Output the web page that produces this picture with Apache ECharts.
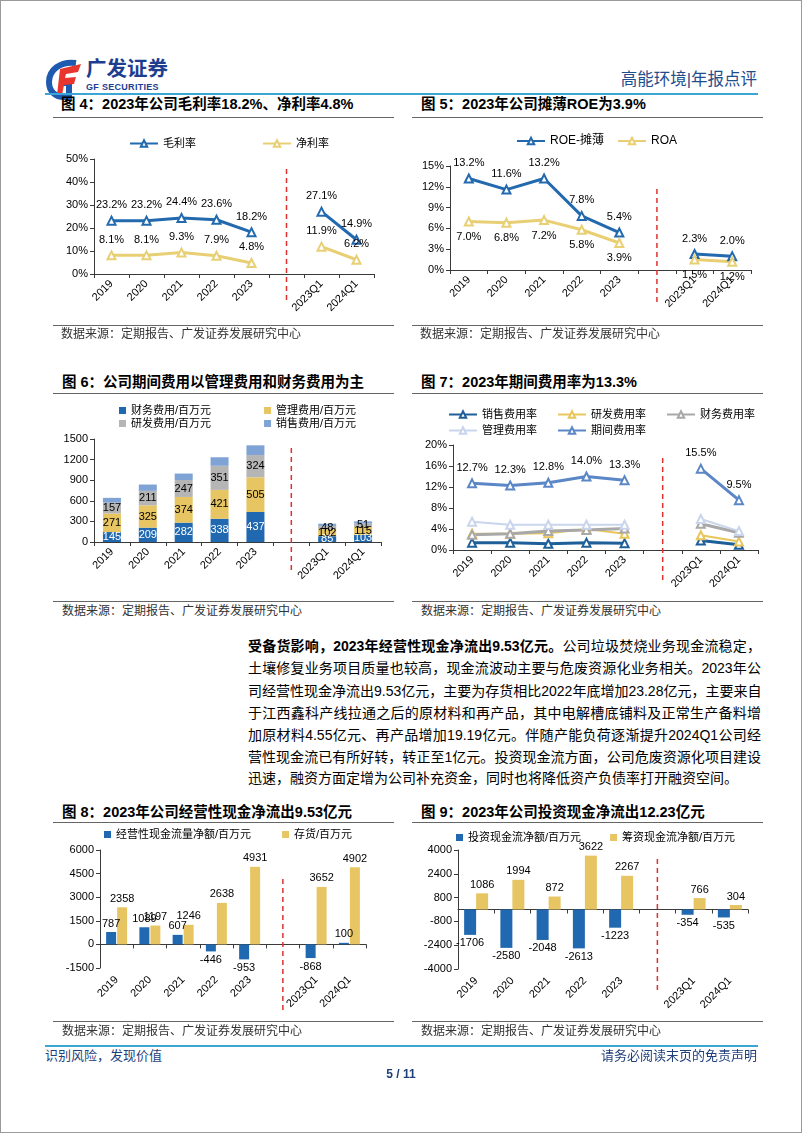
<!DOCTYPE html>
<html>
<head>
<meta charset="utf-8">
<script src="https://cdn.jsdelivr.net/npm/echarts@6/dist/echarts.min.js"></script>
<style>
html,body{margin:0;padding:0;background:#fff;}
#page{position:relative;width:802px;height:1133px;box-sizing:border-box;border:1px solid #9a9a9a;overflow:hidden;font-family:"Liberation Sans","Noto Sans CJK SC",sans-serif;background:#fff;}
.ttl{position:absolute;font-size:14.5px;font-weight:bold;color:#000;white-space:nowrap;line-height:18px;}
.hl{position:absolute;height:1px;background:#666;}
.src{position:absolute;font-size:12px;color:#333;white-space:nowrap;line-height:14px;}
.chart{position:absolute;}
.pl{position:absolute;left:247px;width:513px;font-size:14px;line-height:22px;height:22px;white-space:nowrap;color:#000;text-align:justify;text-align-last:justify;}
</style>
</head>
<body>
<div id="page">
  <!-- header -->
  <svg style="position:absolute;left:44px;top:57px" width="38" height="42" viewBox="0 0 38 42">
    <path d="M31 5 C15 3 4 12 4 24 C4 34 11 39 19 39 L24 39 L24 25 L15 25" fill="none" stroke="#1E5BB0" stroke-width="6"/>
    <path d="M15 11 L36 6 L33 14 L21 16 L20 20 L31 19 L29 26 L19 27 L17 37 L12 37 Z" fill="#E8352E"/>
  </svg>
  <div style="position:absolute;left:85px;top:56px;font-size:20.5px;font-weight:bold;color:#1D3E8F;line-height:24px;white-space:nowrap;">广发证券</div>
  <div style="position:absolute;left:85px;top:81px;font-size:9px;font-weight:bold;color:#1D3E8F;line-height:10px;letter-spacing:0.3px;white-space:nowrap;">GF SECURITIES</div>
  <div style="position:absolute;right:44px;top:69px;font-size:16.5px;color:#1F4E8C;line-height:19px;white-space:nowrap;">高能环境|年报点评</div>
  <div style="position:absolute;left:44px;top:92px;width:713px;height:2px;background:#3BA5D8;"></div>

  <!-- row 1 titles -->
  <div class="ttl" style="left:60px;top:94px;">图 4：2023年公司毛利率18.2%、净利率4.8%</div>
  <div class="ttl" style="left:420px;top:94px;">图 5：2023年公司摊薄ROE为3.9%</div>
  <div class="hl" style="left:52px;top:116px;width:341px;"></div>
  <div class="hl" style="left:411px;top:116px;width:351px;"></div>

  <div id="c4" class="chart" style="left:40px;top:125px;width:360px;height:200px;"></div>
  <div id="c5" class="chart" style="left:410px;top:125px;width:390px;height:200px;"></div>

  <div class="hl" style="left:52px;top:324px;width:341px;"></div>
  <div class="hl" style="left:411px;top:324px;width:351px;"></div>
  <div class="src" style="left:60px;top:326px;">数据来源：定期报告、广发证券发展研究中心</div>
  <div class="src" style="left:419px;top:326px;">数据来源：定期报告、广发证券发展研究中心</div>

  <!-- row 2 -->
  <div class="ttl" style="left:61px;top:372px;">图 6：公司期间费用以管理费用和财务费用为主</div>
  <div class="ttl" style="left:420px;top:372px;">图 7：2023年期间费用率为13.3%</div>
  <div class="hl" style="left:52px;top:392px;width:341px;"></div>
  <div class="hl" style="left:411px;top:392px;width:351px;"></div>

  <div id="c6" class="chart" style="left:40px;top:398px;width:360px;height:200px;"></div>
  <div id="c7" class="chart" style="left:410px;top:398px;width:390px;height:200px;"></div>

  <div class="hl" style="left:52px;top:600px;width:341px;"></div>
  <div class="hl" style="left:411px;top:600px;width:351px;"></div>
  <div class="src" style="left:61px;top:603px;">数据来源：定期报告、广发证券发展研究中心</div>
  <div class="src" style="left:420px;top:603px;">数据来源：定期报告、广发证券发展研究中心</div>

  <!-- paragraph -->
  <div class="pl" style="top:634px;"><b>受备货影响，2023年经营性现金净流出9.53亿元。</b>公司垃圾焚烧业务现金流稳定，</div>
  <div class="pl" style="top:656px;">土壤修复业务项目质量也较高，现金流波动主要与危废资源化业务相关。2023年公</div>
  <div class="pl" style="top:679px;">司经营性现金净流出9.53亿元，主要为存货相比2022年底增加23.28亿元，主要来自</div>
  <div class="pl" style="top:701px;">于江西鑫科产线拉通之后的原材料和再产品，其中电解槽底铺料及正常生产备料增</div>
  <div class="pl" style="top:723px;">加原材料4.55亿元、再产品增加19.19亿元。伴随产能负荷逐渐提升2024Q1公司经</div>
  <div class="pl" style="top:745px;">营性现金流已有所好转，转正至1亿元。投资现金流方面，公司危废资源化项目建设</div>
  <div class="pl" style="top:766px;text-align-last:left;">迅速，融资方面定增为公司补充资金，同时也将降低资产负债率打开融资空间。</div>

  <!-- row 3 -->
  <div class="ttl" style="left:61px;top:802px;">图 8：2023年公司经营性现金净流出9.53亿元</div>
  <div class="ttl" style="left:420px;top:802px;">图 9：2023年公司投资现金净流出12.23亿元</div>
  <div class="hl" style="left:52px;top:821px;width:341px;"></div>
  <div class="hl" style="left:411px;top:821px;width:351px;"></div>

  <div id="c8" class="chart" style="left:40px;top:825px;width:370px;height:200px;"></div>
  <div id="c9" class="chart" style="left:410px;top:825px;width:390px;height:200px;"></div>

  <div class="hl" style="left:52px;top:1020px;width:341px;"></div>
  <div class="hl" style="left:411px;top:1020px;width:351px;"></div>
  <div class="src" style="left:61px;top:1023px;">数据来源：定期报告、广发证券发展研究中心</div>
  <div class="src" style="left:420px;top:1023px;">数据来源：定期报告、广发证券发展研究中心</div>

  <!-- footer -->
  <div style="position:absolute;left:44px;top:1044px;width:713px;height:2px;background:#3BA5D8;"></div>
  <div style="position:absolute;left:44px;top:1047px;font-size:13px;color:#1F3F7A;line-height:16px;white-space:nowrap;">识别风险，发现价值</div>
  <div style="position:absolute;right:44px;top:1047px;font-size:13px;color:#1F3F7A;line-height:16px;white-space:nowrap;">请务必阅读末页的免责声明</div>
  <div style="position:absolute;left:0;width:800px;top:1066px;text-align:center;font-size:12px;font-weight:bold;color:#1F3F7A;line-height:14px;">5 / 11</div>
</div>

<script>
// ---------- data ----------
const categories = ['2019','2020','2021','2022','2023','','2023Q1','2024Q1'];
// Fig 4
const grossMargin = [23.2,23.2,24.4,23.6,18.2,null,27.1,14.9];
const netMargin   = [8.1,8.1,9.3,7.9,4.8,null,11.9,6.2];
// Fig 5
const roeDiluted  = [13.2,11.6,13.2,7.8,5.4,null,2.3,2.0];
const roaValues   = [7.0,6.8,7.2,5.8,3.9,null,1.5,1.2];
// Fig 6 (百万元)
const financeExp  = [145,209,282,338,437,null,85,103];
const adminExp    = [271,325,374,421,505,null,102,115];
const rdExp       = [157,211,247,351,324,null,48,51];
const salesExp    = [70,92,94,124,142,null,31,31];
// Fig 7 (%)
const salesRate   = [1.4,1.4,1.2,1.4,1.3,null,1.8,1.0];
const rdRate      = [3.1,3.1,3.2,4.0,3.1,null,2.8,1.6];
const finRate     = [2.9,3.1,3.6,3.8,4.1,null,5.0,3.3];
const adminRate   = [5.4,4.8,4.8,4.8,4.8,null,5.9,3.6];
const periodRate  = [12.7,12.3,12.8,14.0,13.3,null,15.5,9.5];
// Fig 8 (百万元)
const opCashFlow  = [787,1089,607,-446,-953,null,-868,100];
const inventory   = [2358,1197,1246,2638,4931,null,3652,4902];
// Fig 9 (百万元)
const invCashFlow = [-1706,-2580,-2048,-2613,-1223,null,-354,-535];
const finCashFlow = [1086,1994,872,3622,2267,null,766,304];

// ---------- helpers ----------
const FF = "'Liberation Sans','Noto Sans CJK SC',sans-serif";
const AX = '#3a3a3a';
const BLUE = '#2369AE', GOLD = '#E6C562', GRAY = '#B5B5B5', LBLUE = '#7FA3D5';

function catAxis(o){
  o = o || {};
  return {
    type:'category', data:categories, boundaryGap:true, position:'bottom',
    axisLine:{show:o.line!==false, onZero:o.onZero!==false, lineStyle:{color:AX,width:1}},
    axisTick:{show:o.line!==false, length:4, lineStyle:{color:AX}},
    axisLabel:{show:o.labels!==false, interval:0, rotate:45, fontSize:11, color:'#000', fontFamily:FF, margin:o.margin||8},
    splitLine:{show:false}
  };
}
function valAxis(min,max,interval,suffix){
  return {
    type:'value', min:min, max:max, interval:interval,
    axisLine:{show:true, lineStyle:{color:AX,width:1}},
    axisTick:{show:true, length:4, lineStyle:{color:AX}},
    axisLabel:{fontSize:11, color:'#000', fontFamily:FF, margin:6, formatter:function(v){return v + (suffix||'');}},
    splitLine:{show:false}
  };
}
function grid(l,r,t,b){ return {left:l,right:r,top:t,bottom:b,containLabel:false,outerBoundsMode:'none'}; }
function lineSer(name,data,color,width,pos){
  return {
    name:name, type:'line', data:data, connectNulls:false,
    symbol:'emptyTriangle', symbolSize:8,
    itemStyle:{color:color, borderColor:color, borderWidth:1.2},
    lineStyle:{color:color, width:width},
    label:{show:!!pos, position:pos||'top', distance:5, fontSize:11, color:'#000', fontFamily:FF,
      formatter:function(p){return Number(p.value).toFixed(1)+'%';}},
    emphasis:{disabled:true}, animation:false
  };
}
function legendCfg(o){
  return Object.assign({orient:'horizontal', itemWidth:28, itemHeight:8, padding:0, selectedMode:false,
    textStyle:{fontSize:11, color:'#000', fontFamily:FF}}, o);
}
function sep(chart,y1,y2){
  const x = chart.convertToPixel({xAxisIndex:0}, 5);
  chart.setOption({graphic:[{type:'line', silent:true, z:100,
    shape:{x1:x,y1:y1,x2:x,y2:y2}, style:{stroke:'#E0302E', lineWidth:1.5, lineDash:[5,4]}}]});
}
function signed(arr){
  return arr.map(function(v){ return v==null ? '-' : {value:v, label:{position: v<0 ? 'bottom' : 'top'}}; });
}
function barLabel(color,pos){
  return {show:true, position:pos, fontSize:11, color:color, fontFamily:FF, distance:3};
}

// ---------- Fig 4 ----------
const c4 = echarts.init(document.getElementById('c4'));
c4.setOption({
  animation:false,
  legend: legendCfg({left:88, top:12, itemGap:66, data:['毛利率','净利率']}),
  grid: grid(53,27,33,52),
  xAxis: catAxis(),
  yAxis: valAxis(0,50,10,'%'),
  series:[ lineSer('毛利率',grossMargin,BLUE,3,'top'), lineSer('净利率',netMargin,'#E9CF74',3,'top') ]
});
sep(c4,43,178);

// ---------- Fig 5 ----------
const c5 = echarts.init(document.getElementById('c5'));
c5.setOption({
  animation:false,
  legend: legendCfg({left:105, top:9, itemGap:13, textStyle:{fontSize:12,color:'#000',fontFamily:FF}, data:['ROE-摊薄','ROA']}),
  grid: grid(39,50,40,56),
  xAxis: catAxis(),
  yAxis: valAxis(0,15,3,'%'),
  series:[ lineSer('ROE-摊薄',roeDiluted,BLUE,3,'top'), lineSer('ROA',roaValues,'#E9CF74',3,'bottom') ]
});
sep(c5,63,178);

// ---------- Fig 6 ----------
const c6 = echarts.init(document.getElementById('c6'));
function stackBar(name,data,color,lbl){
  return {name:name, type:'bar', stack:'exp', data:data, barWidth:18,
    itemStyle:{color:color}, label: lbl ? barLabel(lbl,'inside') : {show:false},
    emphasis:{disabled:true}, animation:false};
}
c6.setOption({
  animation:false,
  legend:[
    legendCfg({left:78, top:6, itemGap:53, itemWidth:7, itemHeight:7, icon:'rect', data:['财务费用/百万元','管理费用/百万元']}),
    legendCfg({left:78, top:19, itemGap:53, itemWidth:7, itemHeight:7, icon:'rect', data:['研发费用/百万元','销售费用/百万元']})
  ],
  grid: grid(53,20,40,57),
  xAxis: catAxis(),
  yAxis: valAxis(0,1500,300,''),
  series:[
    stackBar('财务费用/百万元',financeExp,'#2068B0','#fff'),
    stackBar('管理费用/百万元',adminExp,GOLD,'#000'),
    stackBar('研发费用/百万元',rdExp,GRAY,'#000'),
    stackBar('销售费用/百万元',salesExp,LBLUE,null)
  ]
});
sep(c6,49,175);

// ---------- Fig 7 ----------
const c7 = echarts.init(document.getElementById('c7'));
c7.setOption({
  animation:false,
  legend:[
    legendCfg({left:37, top:10, itemGap:20, data:['销售费用率','研发费用率','财务费用率']}),
    legendCfg({left:37, top:26, itemGap:20, data:['管理费用率','期间费用率']})
  ],
  grid: grid(42,43,46,49),
  xAxis: catAxis(),
  yAxis: valAxis(0,20,4,'%'),
  series:[
    lineSer('销售费用率',salesRate,'#1F5F99',3,null),
    lineSer('研发费用率',rdRate,'#E8C65A',2,null),
    lineSer('财务费用率',finRate,'#A8A8A8',3,null),
    lineSer('管理费用率',adminRate,'#C9D5EC',2,null),
    lineSer('期间费用率',periodRate,'#5B87C6',3,'top')
  ]
});
sep(c7,59,185);

// ---------- Fig 8 ----------
const c8 = echarts.init(document.getElementById('c8'));
c8.setOption({
  animation:false,
  legend: legendCfg({left:63, top:3, itemGap:31, itemWidth:7, itemHeight:7, icon:'rect', data:['经营性现金流量净额/百万元','存货/百万元']}),
  grid: grid(59,45,24,58),
  xAxis:[ catAxis({labels:false}), catAxis({line:false, onZero:false, margin:10}) ],
  yAxis: valAxis(-1500,6000,1500,''),
  series:[
    {name:'经营性现金流量净额/百万元', type:'bar', data:signed(opCashFlow), barWidth:10, barGap:'10%',
      itemStyle:{color:'#2068B0'}, label:barLabel('#000','top'), emphasis:{disabled:true}},
    {name:'存货/百万元', type:'bar', data:signed(inventory), barWidth:10, barGap:'10%',
      itemStyle:{color:GOLD}, label:barLabel('#000','top'), emphasis:{disabled:true}}
  ]
});
sep(c8,53,187);

// ---------- Fig 9 ----------
const c9 = echarts.init(document.getElementById('c9'));
c9.setOption({
  animation:false,
  legend: legendCfg({left:45, top:6, itemGap:29, itemWidth:7, itemHeight:7, icon:'rect', data:['投资现金流净额/百万元','筹资现金流净额/百万元']}),
  grid: grid(47,53,24,57),
  xAxis:[ catAxis({labels:false}), catAxis({line:false, onZero:false, margin:10}) ],
  yAxis: valAxis(-4000,4000,1600,''),
  series:[
    {name:'投资现金流净额/百万元', type:'bar', data:signed(invCashFlow), barWidth:12, barGap:'0%',
      itemStyle:{color:'#2068B0'}, label:barLabel('#000','top'), emphasis:{disabled:true}},
    {name:'筹资现金流净额/百万元', type:'bar', data:signed(finCashFlow), barWidth:12, barGap:'0%',
      itemStyle:{color:GOLD}, label:barLabel('#000','top'), emphasis:{disabled:true}}
  ]
});
sep(c9,33,165);
</script>
</body>
</html>
